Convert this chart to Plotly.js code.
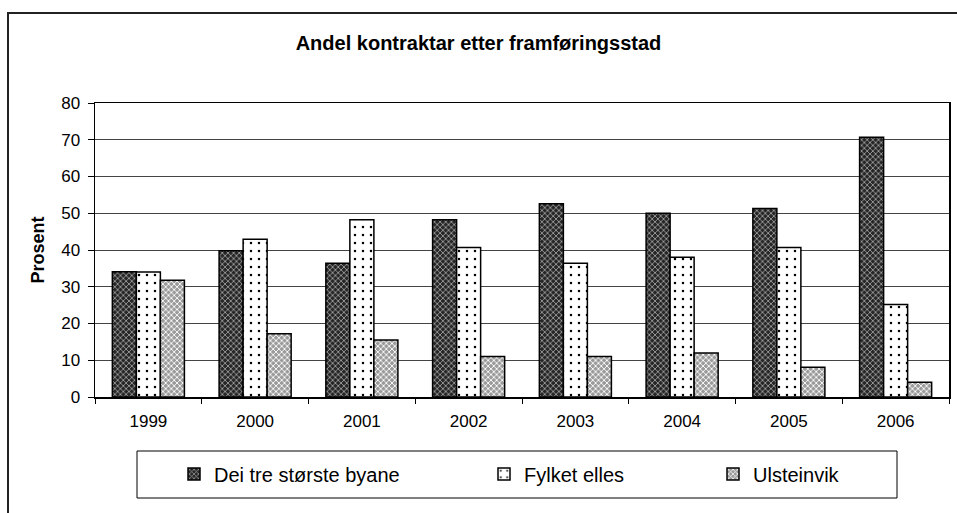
<!DOCTYPE html>
<html>
<head>
<meta charset="utf-8">
<script src="https://cdn.plot.ly/plotly-3.0.1.min.js"></script>
<style>html,body{margin:0;padding:0;background:#fff;}#chart{width:957px;height:513px;}</style>
</head>
<body>
<div id="chart"></div>
<script>
const years = ["1999","2000","2001","2002","2003","2004","2005","2006"];
const seriesNames = ["Dei tre største byane","Fylket elles","Ulsteinvik"];
const byane = [34.1, 39.8, 36.4, 48.2, 52.6, 50.0, 51.3, 70.7];
const fylket = [34.0, 42.9, 48.2, 40.7, 36.4, 38.0, 40.7, 25.2];
const ulsteinvik = [31.8, 17.2, 15.5, 11.0, 11.0, 12.0, 8.1, 4.0];
const yTicks = [0,10,20,30,40,50,60,70,80];

const W = 957, H = 513;
const M = {l:95, r:8, t:103, b:116};
const pw = W - M.l - M.r, ph = H - M.t - M.b;
const px = x => (x - M.l) / pw;
const py = y => (H - M.b - y) / ph;

const font = "Liberation Sans, Arial, sans-serif";
const line = {color:"#000", width:1.5};

const traces = [
  {type:"bar", x:years, y:byane, name:seriesNames[0], legend:"legend",
   marker:{color:"#333", line:line, pattern:{shape:"x", bgcolor:"#262626", fgcolor:"#b0b0b0", size:4, solidity:0.35, fillmode:"replace"}}},
  {type:"bar", x:years, y:fylket, name:seriesNames[1], legend:"legend2",
   marker:{color:"#fff", line:line, pattern:{shape:".", bgcolor:"#fff", fgcolor:"#000", size:8, solidity:0.08, fillmode:"replace"}}},
  {type:"bar", x:years, y:ulsteinvik, name:seriesNames[2], legend:"legend3",
   marker:{color:"#aaa", line:line, pattern:{shape:"x", bgcolor:"#9a9a9a", fgcolor:"#ffffff", size:4, solidity:0.4, fillmode:"replace"}}}
];

const legFont = {family:font, size:20, color:"#000"};
const legY = py(474);
const mkLeg = x => ({x:x, y:legY, xanchor:"left", yanchor:"middle", orientation:"h",
  bgcolor:"rgba(0,0,0,0)", borderwidth:0, font:legFont, itemwidth:30});

const layout = {
  width:W, height:H,
  margin:M,
  paper_bgcolor:"#fff", plot_bgcolor:"#fff",
  font:{family:font, size:17, color:"#000"},
  title:{text:"<b>Andel kontraktar etter framføringsstad</b>", font:{family:font, size:20, color:"#000"},
         x:0.5, xref:"container", xanchor:"center", y:1-43/H, yref:"container", yanchor:"middle"},
  barmode:"group", bargap:0.325, bargroupgap:0,
  showlegend:true,
  legend:mkLeg(px(174)),
  legend2:mkLeg(px(484)),
  legend3:mkLeg(px(713)),
  xaxis:{type:"category", showline:true, linecolor:"#000", linewidth:1.5, mirror:true,
         ticks:"outside", tickson:"boundaries", ticklen:5, tickcolor:"#000", ticklabelstandoff:8,
         tickfont:{family:font, size:17, color:"#000"}, showgrid:false, fixedrange:true},
  yaxis:{range:[0,80], tickvals:yTicks, showline:true, linecolor:"#000", linewidth:1.5, mirror:true,
         ticks:"outside", ticklen:6, tickcolor:"#000", ticklabelstandoff:4, showgrid:true, gridcolor:"#444", gridwidth:1,
         tickfont:{family:font, size:17, color:"#000"}, zeroline:false,
         title:{text:"<b>Prosent</b>", font:{family:font, size:18, color:"#000"}, standoff:12}},
  shapes:[
    {type:"rect", xref:"paper", yref:"paper", x0:px(137), x1:px(897), y0:py(498), y1:py(451),
     line:{color:"#000", width:1}, fillcolor:"rgba(0,0,0,0)", layer:"below"},
    {type:"rect", xref:"paper", yref:"paper", x0:px(8), x1:px(965), y0:py(525), y1:py(13),
     line:{color:"#222", width:2}, fillcolor:"rgba(0,0,0,0)", layer:"below"}
  ]
};

Plotly.newPlot("chart", traces, layout, {displayModeBar:false, staticPlot:true});
</script>
</body>
</html>
